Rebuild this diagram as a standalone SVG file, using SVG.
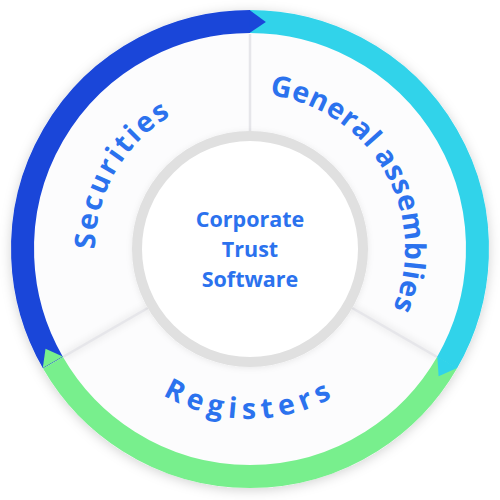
<svg xmlns="http://www.w3.org/2000/svg" width="500" height="500" viewBox="0 0 500 500">
  <style>
    .ring { fill: none; stroke-width: 23; stroke-linecap: butt; }
    .lbl { font-family: "Open Sans", "Noto Sans", "DejaVu Sans", sans-serif; font-weight: 700; fill: #2b72ee; font-size: 28.5px; }
    .ctr { font-family: "Open Sans", "Noto Sans", "DejaVu Sans", sans-serif; font-weight: 700; fill: #2b72ee; font-size: 21.5px; text-anchor: middle; }
    .div { stroke: #e6e6ea; stroke-width: 2.5; fill: none; }
    .divsh { stroke: #000; stroke-opacity: 0.05; stroke-width: 8; fill: none; filter: url(#blur); }
  </style>
  <defs>
    <filter id="shadow" x="-20%" y="-20%" width="140%" height="140%">
      <feDropShadow dx="0" dy="2" stdDeviation="6" flood-color="#000" flood-opacity="0.18"/>
    </filter>
    <filter id="ishadow" x="-20%" y="-20%" width="140%" height="140%">
      <feDropShadow dx="0" dy="1" stdDeviation="3" flood-color="#000" flood-opacity="0.08"/>
    </filter>
    <filter id="blur" x="-20%" y="-20%" width="140%" height="140%">
      <feGaussianBlur stdDeviation="3"/>
    </filter>
    <path id="pSec" d="M 115.8 326.5 A 155 155 0 0 1 250 94"/>
    <path id="pGen" d="M 250 94 A 155 155 0 0 1 384.2 326.5"/>
    <path id="pReg" d="M 102.8 334 A 170 170 0 0 0 397.2 334"/>
  </defs>

  <!-- base disc -->
  <circle cx="250" cy="249" r="239" fill="#fcfcfd" filter="url(#shadow)"/>

  <g id="connectors">
    <!-- sector dividers -->
    <line class="divsh" x1="250" y1="34" x2="250" y2="131"/>
    <line class="divsh" x1="62.94" y1="357" x2="147.8" y2="308"/>
    <line class="divsh" x1="352.2" y1="308" x2="437.06" y2="357"/>
    <line class="div" x1="250" y1="34" x2="250" y2="131"/>
    <line class="div" x1="62.94" y1="357" x2="147.8" y2="308"/>
    <line class="div" x1="352.2" y1="308" x2="437.06" y2="357"/>
  </g>

  <g id="ring">
    <path class="ring" stroke="#1a46d9" d="M 52.98 362.75 A 227.5 227.5 0 0 1 250 21.5"/>
    <path class="ring" stroke="#31d3ea" d="M 250 21.5 A 227.5 227.5 0 0 1 447.02 362.75"/>
    <path class="ring" stroke="#78ef8d" d="M 447.02 362.75 A 227.5 227.5 0 0 1 52.98 362.75"/>
    <polygon fill="#1a46d9" points="249.5,33 249.5,10 265.87,22.05"/>
    <polygon fill="#31d3ea" points="437.3,356.6 457.2,368.1 438.61,376.22"/>
    <polygon fill="#78ef8d" points="62.7,356.6 42.8,368.1 45.52,348.73"/>
  </g>

  <g id="center">
    <circle cx="250" cy="249" r="113" fill="#ffffff" stroke="#e0e0e0" stroke-width="10" filter="url(#ishadow)"/>
    <text class="ctr" x="250" y="227">Corporate</text>
    <text class="ctr" x="250" y="257">Trust</text>
    <text class="ctr" x="250" y="287">Software</text>
  </g>

  <g id="securities">
    <text class="lbl" letter-spacing="2.3"><textPath href="#pSec" startOffset="50%" text-anchor="middle">Securities</textPath></text>
  </g>
  <g id="general-assemblies">
    <text class="lbl" letter-spacing="0.5"><textPath href="#pGen" startOffset="50%" text-anchor="middle">General assemblies</textPath></text>
  </g>
  <g id="registers">
    <text class="lbl" letter-spacing="5.8"><textPath href="#pReg" startOffset="50%" text-anchor="middle">Registers</textPath></text>
  </g>
</svg>
